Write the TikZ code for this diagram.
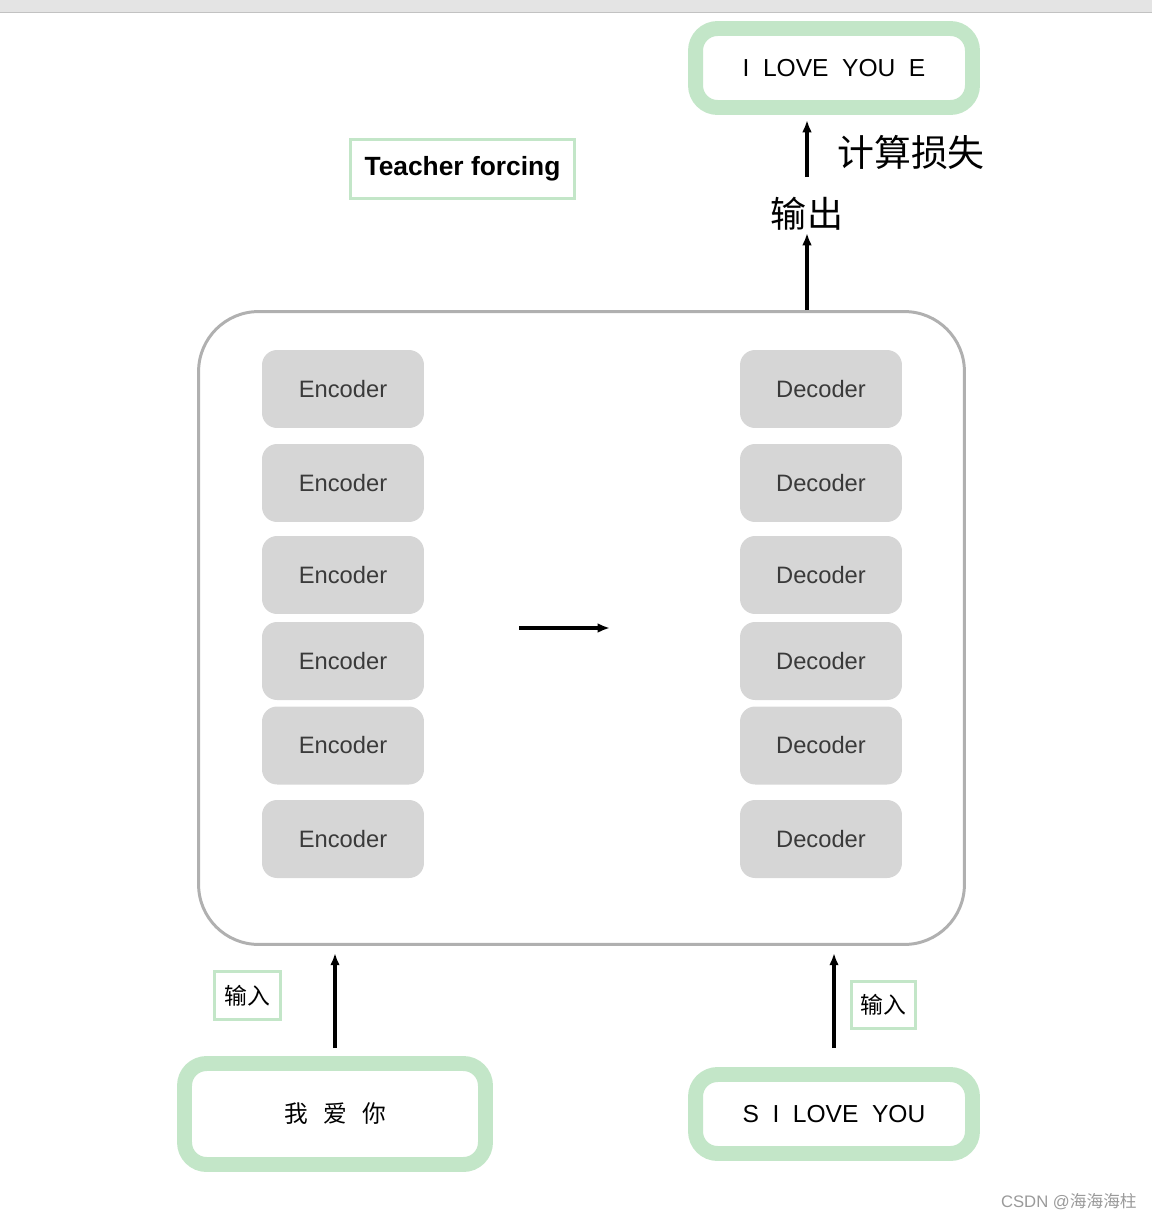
\documentclass[tikz,border=0pt]{standalone}
\usepackage{fontspec}
\usepackage{tikz}
\usepackage{xcolor}
\usetikzlibrary{arrows.meta,positioning}
\setmainfont{Liberation Sans}
\newfontfamily\cjk{Noto Sans CJK SC}
\definecolor{mintgreen}{HTML}{C3E6C8}
\definecolor{layergray}{HTML}{D6D6D6}
\definecolor{framegray}{HTML}{B0B0B0}
\definecolor{labelgray}{HTML}{3A3A3A}
\definecolor{bargray}{HTML}{E4E4E4}
\definecolor{barline}{HTML}{C2C2C2}
\definecolor{markgray}{HTML}{9A9A9A}
\newcommand{\wordgap}{\hspace{0.55em}}

\begin{document}
\begin{tikzpicture}[x=0.02cm,y=-0.02cm,
      >=Latex,
      seqbox/.style={draw=mintgreen,line width=8.5pt,rounded corners=0.44cm,fill=white,
                   minimum width=5.54cm,minimum height=1.58cm,font=\fontsize{14}{16}\selectfont},
      tagbox/.style={draw=mintgreen,line width=1.7pt,inner sep=0pt},
      layerbox/.style={fill=layergray,rounded corners=0.3cm,minimum width=3.24cm,
                   minimum height=1.56cm,text=labelgray,font=\fontsize{13.5}{16}\selectfont},
      arrow/.style={-{Latex[length=7pt,width=5.5pt]},line width=1.9pt}
    ]
    \useasboundingbox (0,0) rectangle (1152,1220);
    % window bar
    \fill[bargray] (0,0) rectangle (1152,12);
    \draw[barline,line width=1pt] (0,12.5) -- (1152,12.5);

    % output side
    \node[seqbox] (tgtout) at (834,68) {I\wordgap LOVE\wordgap YOU\wordgap E};
    \node[inner sep=0pt,font=\cjk\fontsize{21}{24}\selectfont] (loss) at (911,152) {计算损失};
    \node[inner sep=0pt,font=\cjk\fontsize{20.5}{24}\selectfont] (outlbl) at (807,214) {输出};
    \node[tagbox,minimum width=4.48cm,minimum height=1.18cm,
      font=\bfseries\fontsize{15}{18}\selectfont] (tf) at (462.5,169) {Teacher forcing};

    % encoder-decoder block
    \node[draw=framegray,line width=1.7pt,rounded corners=1.2cm,minimum width=15.32cm,
      minimum height=12.66cm] (model) at (581.5,628) {};
    \node[layerbox] (enc1) at (343,389) {Encoder};
    \node[layerbox] (enc2) at (343,483) {Encoder};
    \node[layerbox] (enc3) at (343,575) {Encoder};
    \node[layerbox] (enc4) at (343,661) {Encoder};
    \node[layerbox] (enc5) at (343,745.5) {Encoder};
    \node[layerbox] (enc6) at (343,839) {Encoder};
    \node[layerbox] (dec1) at (821,389) {Decoder};
    \node[layerbox] (dec2) at (821,483) {Decoder};
    \node[layerbox] (dec3) at (821,575) {Decoder};
    \node[layerbox] (dec4) at (821,661) {Decoder};
    \node[layerbox] (dec5) at (821,745.5) {Decoder};
    \node[layerbox] (dec6) at (821,839) {Decoder};
    \coordinate (midstart) at (519,628);
    \coordinate (midend) at (610,628);

    % input side
    \node[seqbox,minimum width=6.02cm,minimum height=2.02cm,
      font=\cjk\fontsize{13.5}{16}\selectfont] (src) at (335,1114)
      {我\hspace{0.65em}爱\hspace{0.65em}你};
    \node[seqbox] (tgtin) at (834,1114) {S\wordgap I\wordgap LOVE\wordgap YOU};
    \node[tagbox,minimum width=1.32cm,minimum height=0.96cm,
      font=\cjk\fontsize{13}{15}\selectfont] (srcin) at (247.5,995.5) {输入};
    \node[tagbox,minimum width=1.28cm,minimum height=0.94cm,
      font=\cjk\fontsize{13}{15}\selectfont] (tgtinlbl) at (883.5,1005) {输入};

    \node[text=markgray,inner sep=0pt,font=\fontsize{9.5}{11}\selectfont,anchor=east] (mark)
      at (1137,1202) {CSDN @{\cjk 海海海柱}};

    \draw[arrow,shorten <=0.4cm,shorten >=0.1cm] (outlbl.north) -- (tgtout.south -| outlbl);
    \draw[arrow,shorten >=0.04cm] (model.north -| outlbl) -- (outlbl.south);
    \draw[arrow] (midstart) -- (midend);
    \draw[arrow,shorten <=0.16cm,shorten >=0.14cm] (src.north) -- (model.south -| src);
    \draw[arrow,shorten <=0.38cm,shorten >=0.14cm] (tgtin.north) -- (model.south -| tgtin);
  \end{tikzpicture}
\end{document}
